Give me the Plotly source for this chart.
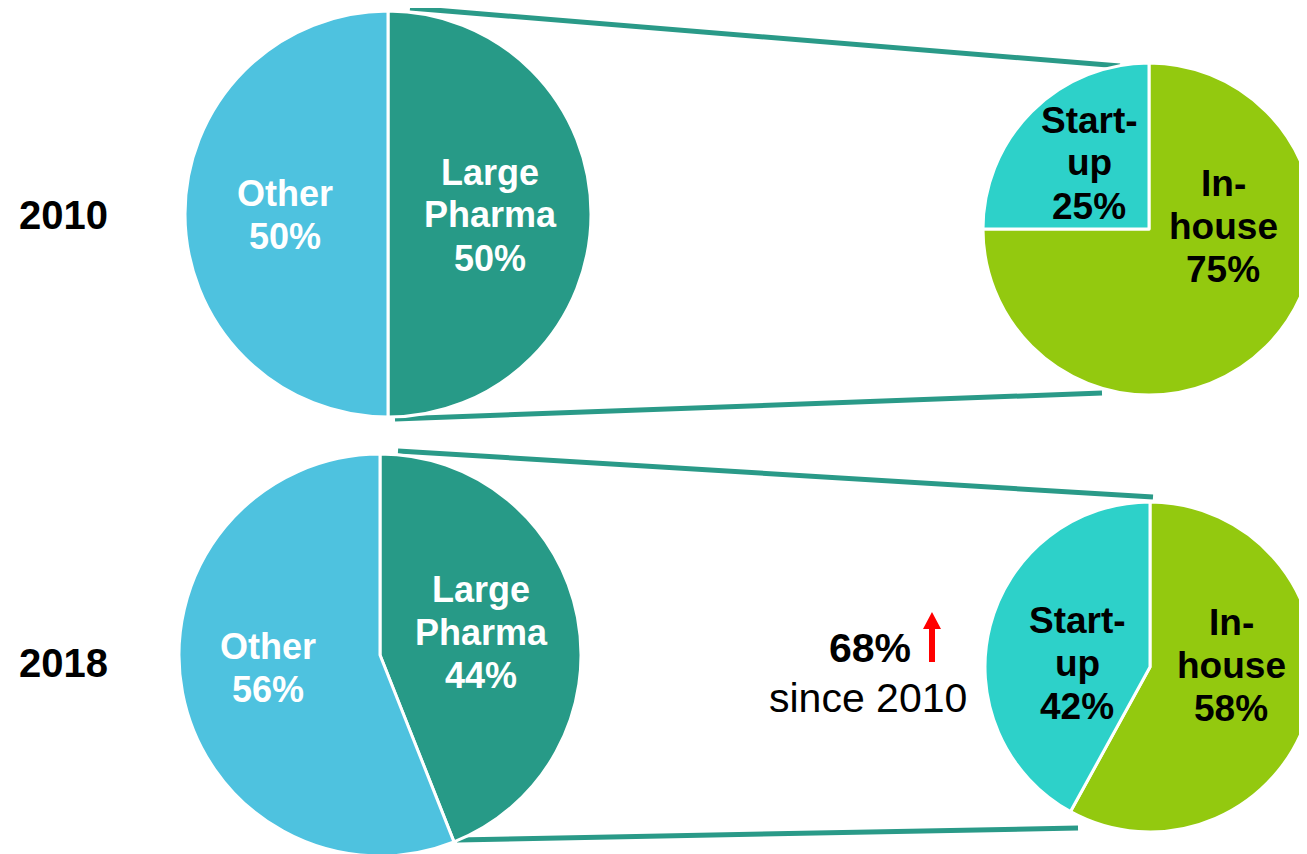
import plotly.graph_objects as go

# ---------------- data ----------------
years = ["2010", "2018"]
main_labels = ["Large Pharma", "Other"]
main_2010 = [50, 50]
main_2018 = [44, 56]
sub_labels = ["In-house", "Start-up"]
sub_2010 = [75, 25]
sub_2018 = [58, 42]
growth_text = "68%"
growth_note = "since 2010"

# ---------------- style ----------------
W, H = 1307, 854
OFF = 8  # page body margin offset
MAIN_COLORS = ["#279A87", "#4EC2DF"]
SUB_COLORS = ["#93C90F", "#2DD1C9"]
LINE_COLOR = "#2A9A88"
FONT = "Liberation Sans"


def px(x):
    return (x - OFF) / W


def py(y):
    return 1 - (y - OFF) / H


def dom(cx, cy, r):
    return dict(x=[max(0, px(cx - r)), min(1, px(cx + r))],
                y=[max(0, py(cy + r)), min(1, py(cy - r))])


fig = go.Figure()

pies = [
    (main_labels, main_2010, MAIN_COLORS, (388, 214, 203)),
    (sub_labels, sub_2010, SUB_COLORS, (1149, 229, 166)),
    (main_labels, main_2018, MAIN_COLORS, (380, 655, 201)),
    (sub_labels, sub_2018, SUB_COLORS, (1150, 667, 165)),
]
for labels, vals, cols, (cx, cy, r) in pies:
    fig.add_trace(go.Pie(
        labels=labels, values=vals, sort=False, direction="clockwise",
        rotation=0, textinfo="none", showlegend=False,
        marker=dict(colors=cols, line=dict(color="white", width=3)),
        domain=dom(cx, cy, r),
    ))

# label positions (screen px) for each slice: (x, y of middle line)
label_pos = [
    [(490, 215), (285, 215)],
    [(1223, 226), (1089, 163)],
    [(481, 632), (268, 668)],
    [(1231, 665), (1077, 663)],
]


def split_label(s):
    if "-" in s:
        a, b = s.split("-", 1)
        return [a + "-", b]
    return s.split(" ")


annotations = []
LH = 43
for k, (labels, vals, cols, _) in enumerate(pies):
    color = "white" if k % 2 == 0 else "black"
    for (lab, v), (x, y) in zip(zip(labels, vals), label_pos[k]):
        lines = split_label(lab) + [f"{v}%"]
        n = len(lines)
        for i, t in enumerate(lines):
            yy = y + (i - (n - 1) / 2) * LH
            annotations.append(dict(
                x=px(x), y=py(yy), xref="paper", yref="paper", text=t,
                showarrow=False, xanchor="center", yanchor="middle",
                font=dict(family=FONT, size=37 if k % 2 else 36,
                          color=color, weight="bold"),
            ))

# year labels
for yr, yc in zip(years, [215, 663]):
    annotations.append(dict(
        x=px(63), y=py(yc), xref="paper", yref="paper", text=yr,
        showarrow=False, xanchor="center", yanchor="middle",
        font=dict(family=FONT, size=40, color="black", weight="bold"),
    ))

annotations.append(dict(
    x=px(870), y=py(648), xref="paper", yref="paper", text=growth_text,
    showarrow=False, xanchor="center", yanchor="middle",
    font=dict(family=FONT, size=41, color="black", weight="bold"),
))
annotations.append(dict(
    x=px(868), y=py(698), xref="paper", yref="paper", text=growth_note,
    showarrow=False, xanchor="center", yanchor="middle",
    font=dict(family=FONT, size=41, color="black"),
))

shapes = []
for (x0, y0, x1, y1) in [(410, 8, 1120, 66), (395, 419, 1102, 393),
                         (398, 451, 1153, 497), (457, 840, 1078, 828)]:
    shapes.append(dict(type="line", xref="paper", yref="paper",
                       x0=px(x0), y0=py(y0), x1=px(x1), y1=py(y1),
                       line=dict(color=LINE_COLOR, width=5), layer="below"))

# red arrow
pts = [(929, 662), (935, 662), (935, 629), (941, 629), (932, 612),
       (923, 629), (929, 629)]
path = "M " + " L ".join(f"{px(a):.5f},{py(b):.5f}" for a, b in pts) + " Z"
shapes.append(dict(type="path", xref="paper", yref="paper", path=path,
                   fillcolor="#FF0000", line=dict(width=0)))

fig.update_layout(
    width=W, height=H, margin=dict(l=0, r=0, t=0, b=0),
    paper_bgcolor="white", plot_bgcolor="white",
    annotations=annotations, shapes=shapes,
)

fig.write_html("out.html")
